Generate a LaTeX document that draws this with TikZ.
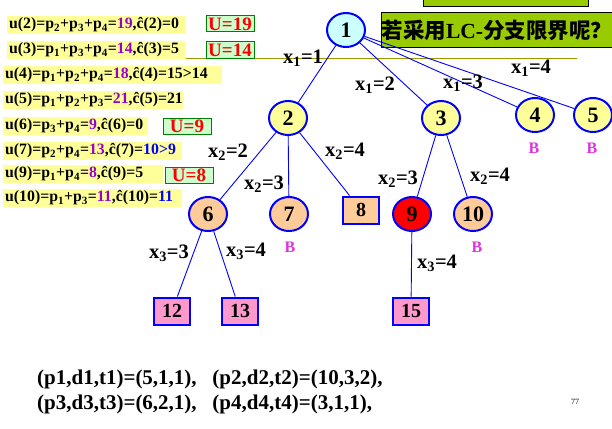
\documentclass[tikz,border=0pt]{standalone}
\usepackage{fontspec}
\setmainfont{Liberation Serif}
\newfontfamily\cjk{Noto Sans CJK SC}
\usepackage{xcolor}
\usepackage{tikz}
\usetikzlibrary{shapes.geometric, positioning}
\definecolor{treeblue}{RGB}{0, 0, 255}
\definecolor{rootbg}{RGB}{204, 255, 255}
\definecolor{livebg}{RGB}{255, 255, 153}
\definecolor{killbg}{RGB}{255, 204, 153}
\definecolor{leafbg}{RGB}{255, 153, 204}
\definecolor{ubg}{RGB}{204, 255, 204}
\definecolor{uframe}{RGB}{0, 128, 0}
\definecolor{valpurple}{RGB}{153, 0, 204}
\definecolor{bmagenta}{RGB}{221, 51, 221}
\definecolor{ruleolive}{RGB}{153, 153, 0}
\definecolor{askgreen}{RGB}{153, 204, 0}
\newcommand{\sbs}[1]{\textsubscript{#1}}
\newcommand{\pv}[1]{\textcolor{valpurple}{#1}}
\newcommand{\bv}[1]{\textcolor{treeblue}{#1}}

\begin{document}
\begin{tikzpicture}[x=1pt, y=-1pt,
          tnode/.style={ellipse, draw=treeblue, line width=2pt, minimum width=38pt, minimum height=34pt,
                        inner sep=0pt, font=\bfseries\fontsize{22}{22}\selectfont},
          sqnode/.style={rectangle, draw=treeblue, line width=2pt, minimum width=36pt, minimum height=27pt,
                        inner sep=0pt, font=\bfseries\fontsize{20}{20}\selectfont},
          lbl/.style={inner sep=0pt, font=\bfseries\fontsize{20.5}{20.5}\selectfont},
          bmark/.style={inner sep=0pt, text=bmagenta, font=\bfseries\fontsize{16}{16}\selectfont},
          ubox/.style={fill=livebg, anchor=west, inner xsep=2pt, inner ysep=0pt, minimum height=18pt,
                       align=left, font=\bfseries\fontsize{15.8}{15.8}\selectfont},
          bound/.style={draw=uframe, fill=ubg, text=red, line width=1pt, inner sep=0pt, minimum width=48pt,
                        minimum height=16pt, font=\bfseries\fontsize{19}{19}\selectfont},
          branch/.style={draw=treeblue, line width=0.9pt},
        ]
        \useasboundingbox (0,0) rectangle (612,428);

        \draw[ruleolive, line width=1pt] (186,58) -- (577,58);
        \fill[askgreen] (423,0) rectangle (588,7);
        \draw[line width=1pt] (423,0) -- (423,7) -- (588,7) -- (588,0);
        \node[draw, line width=1pt, fill=askgreen, anchor=west, minimum width=229pt, minimum height=35pt,
              inner sep=0pt, font=\bfseries\fontsize{21.5}{21.5}\selectfont] (ask) at (381,30.5)
              {{\cjk 若采用}LC-{\cjk 分支限界呢？}};

        \node[ubox, text width=175pt] (u2)  at (7,25)  {u(2)=p\sbs{2}+p\sbs{3}+p\sbs{4}=\pv{19},ĉ(2)=0};
        \node[ubox, text width=175pt] (u3)  at (7,50)  {u(3)=p\sbs{1}+p\sbs{3}+p\sbs{4}=\pv{14},ĉ(3)=5};
        \node[ubox, text width=215pt] (u4)  at (3,75)  {u(4)=p\sbs{1}+p\sbs{2}+p\sbs{4}=\pv{18},ĉ(4)=15>14};
        \node[ubox, text width=176pt] (u5)  at (3,100) {u(5)=p\sbs{1}+p\sbs{2}+p\sbs{3}=\pv{21},ĉ(5)=21};
        \node[ubox, text width=141pt] (u6)  at (3,126) {u(6)=p\sbs{3}+p\sbs{4}=\pv{9},ĉ(6)=0};
        \node[ubox, text width=175pt] (u7)  at (3,151) {u(7)=p\sbs{2}+p\sbs{4}=\pv{13},ĉ(7)=\bv{10>9}};
        \node[ubox, text width=156pt] (u9)  at (3,174) {u(9)=p\sbs{1}+p\sbs{4}=\pv{8},ĉ(9)=5};
        \node[ubox, text width=175pt] (u10) at (3,198) {u(10)=p\sbs{1}+p\sbs{3}=\pv{11},ĉ(10)=\bv{11}};

        \node[bound] (U19) at (230,24)  {U=19};
        \node[bound] (U14) at (230,50)  {U=14};
        \node[bound] (U9)  at (187,126) {U=9};
        \node[bound] (U8)  at (189,175) {U=8};

        \node[tnode, fill=rootbg] (n1) at (346,30) {1};
        \node[tnode, fill=livebg] (n2) at (288,118) {2};
        \node[tnode, fill=livebg] (n3) at (441,118) {3};
        \node[tnode, fill=livebg] (n4) at (535,115) {4};
        \node[tnode, fill=livebg] (n5) at (593,115) {5};
        \node[tnode, fill=killbg] (n6) at (208,214) {6};
        \node[tnode, fill=killbg] (n7) at (289,214) {7};
        \node[sqnode, fill=killbg] (n8) at (361,210) {8};
        \node[tnode, fill=red] (n9) at (412,214) {9};
        \node[tnode, fill=killbg] (n10) at (473,214) {10};
        \node[sqnode, fill=leafbg] (n12) at (172,311) {12};
        \node[sqnode, fill=leafbg] (n13) at (240,311) {13};
        \node[sqnode, fill=leafbg] (n15) at (411,311) {15};

        \draw[branch] (n1) -- (n2);
        \draw[branch] (n1) -- (n3);
        \draw[branch] (n1) -- (n4);
        \draw[branch] (n1) -- (n5);
        \draw[branch] (n2) -- (n6);
        \draw[branch] (n2) -- (n7);
        \draw[branch] (n2) -- (n8);
        \draw[branch] (n3) -- (n9);
        \draw[branch] (n3) -- (n10);
        \draw[branch] (n6) -- (n12);
        \draw[branch] (n6) -- (n13);
        \draw[branch] (n9) -- (n15);

        \node[lbl] (l11) at (303,58)  {x\sbs{1}=1};
        \node[lbl] (l12) at (375,85)  {x\sbs{1}=2};
        \node[lbl] (l13) at (463,83)  {x\sbs{1}=3};
        \node[lbl] (l14) at (531,68)  {x\sbs{1}=4};
        \node[lbl] (l22) at (228,152) {x\sbs{2}=2};
        \node[lbl] (l23) at (264,184) {x\sbs{2}=3};
        \node[lbl] (l24) at (345,151) {x\sbs{2}=4};
        \node[lbl] (l33) at (398,179) {x\sbs{2}=3};
        \node[lbl] (l34) at (490,176) {x\sbs{2}=4};
        \node[lbl] (l63) at (169,253) {x\sbs{3}=3};
        \node[lbl] (l64) at (246,251) {x\sbs{3}=4};
        \node[lbl] (l94) at (437,263) {x\sbs{3}=4};

        \node[bmark] (b4)  at (534,148) {B};
        \node[bmark] (b5)  at (592,148) {B};
        \node[bmark] (b7)  at (290,247) {B};
        \node[bmark] (b10) at (477,247) {B};

        \node[anchor=west, align=left, inner sep=0pt, font=\bfseries\fontsize{21}{25}\selectfont] (data) at (37,392)
              {(p1,d1,t1)=(5,1,1),\ \ \ (p2,d2,t2)=(10,3,2),\\(p3,d3,t3)=(6,2,1),\ \ \ (p4,d4,t4)=(3,1,1),};
        \node[inner sep=0pt, font=\fontsize{8}{8}\selectfont] (pg) at (575,402) {77};
      \end{tikzpicture}
\end{document}
